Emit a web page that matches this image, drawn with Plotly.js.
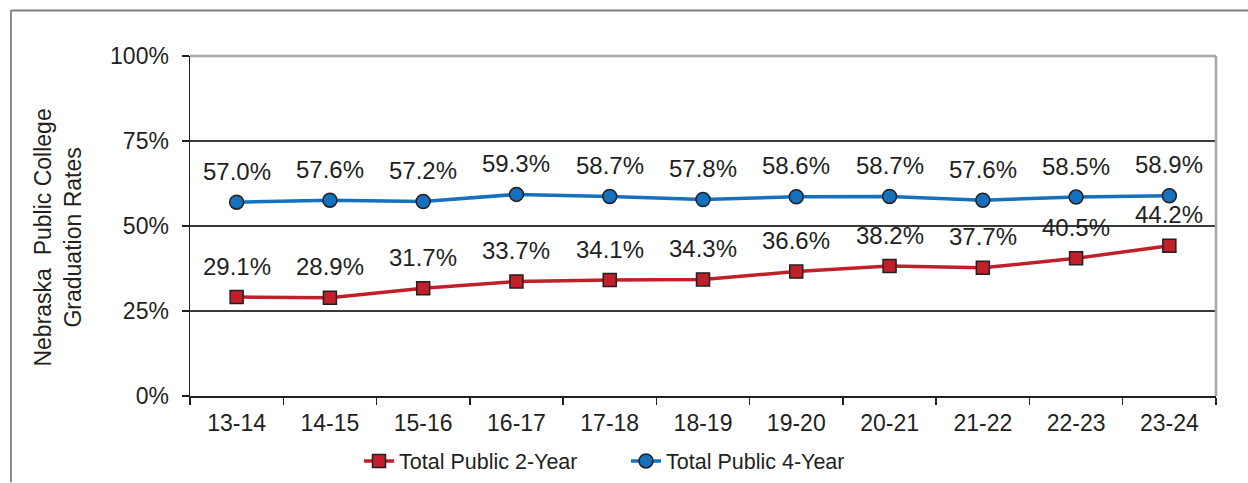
<!DOCTYPE html>
<html>
<head>
<meta charset="utf-8">
<script src="https://cdn.plot.ly/plotly-3.0.1.min.js"></script>
<style>
html,body{margin:0;padding:0;background:#fff;}
#chart{width:1248px;height:483px;}
</style>
</head>
<body>
<div id="chart"></div>
<script>
const categories = ['13-14','14-15','15-16','16-17','17-18','18-19','19-20','20-21','21-22','22-23','23-24'];
const twoYear = [29.1, 28.9, 31.7, 33.7, 34.1, 34.3, 36.6, 38.2, 37.7, 40.5, 44.2];
const fourYear = [57.0, 57.6, 57.2, 59.3, 58.7, 57.8, 58.6, 58.7, 57.6, 58.5, 58.9];
const seriesNames = ['Total Public 2-Year', 'Total Public 4-Year'];
const yTicks = [0, 25, 50, 75, 100];
const yTitle = 'Nebraska  Public College<br>Graduation Rates';

const RED = '#C1202B';
const BLUE = '#1570BE';
const INK = '#231F20';
const FONT = 'Liberation Sans, Arial, sans-serif';

const traces = [
  {
    x: categories, y: twoYear, name: seriesNames[0], type: 'scatter', mode: 'lines+markers',
    line: {color: RED, width: 3.5},
    marker: {symbol: 'square', size: 13, color: RED, line: {color: INK, width: 1.5}},
    hoverinfo: 'skip'
  },
  {
    x: categories, y: fourYear, name: seriesNames[1], type: 'scatter', mode: 'lines+markers',
    line: {color: BLUE, width: 3.5},
    marker: {symbol: 'circle', size: 14, color: BLUE, line: {color: INK, width: 1.5}},
    hoverinfo: 'skip'
  }
];

const annotations = [];
[twoYear, fourYear].forEach(function (vals) {
  vals.forEach(function (v, i) {
    annotations.push({
      x: categories[i], y: v, xref: 'x', yref: 'y',
      text: v.toFixed(1) + '%', showarrow: false,
      yshift: 31, yanchor: 'middle', xanchor: 'center',
      font: {family: FONT, size: 24, color: INK}
    });
  });
});
annotations.push({
  xref: 'paper', yref: 'paper', x: -0.129, y: 0.465,
  text: yTitle, showarrow: false, textangle: -90,
  xanchor: 'center', yanchor: 'middle',
  font: {family: FONT, size: 23, color: INK}
});

const L = 190, R = 32, T = 56, B = 86.5;
const W = 1248 - L - R, H = 483 - T - B;
function px(x) { return (x - L) / W; }
function py(y) { return (483 - B - y) / H; }

const shapes = [
  {type: 'line', xref: 'paper', yref: 'paper', x0: 0, x1: 1, y0: 1, y1: 1, line: {color: '#A6A6A6', width: 2.5}, layer: 'above'},
  {type: 'line', xref: 'paper', yref: 'paper', x0: 1, x1: 1, y0: 0, y1: 1, line: {color: '#A6A6A6', width: 2.5}, layer: 'above'},
  {type: 'line', xref: 'paper', yref: 'paper', x0: px(11), x1: px(1248), y0: py(10.5), y1: py(10.5), line: {color: '#7F7F7F', width: 2}},
  {type: 'line', xref: 'paper', yref: 'paper', x0: px(11), x1: px(11), y0: py(10), y1: py(483), line: {color: '#8C8C8C', width: 2}}
];

const layout = {
  width: 1248, height: 483,
  margin: {l: L, r: R, t: T, b: B, pad: 0, autoexpand: false},
  paper_bgcolor: '#fff', plot_bgcolor: '#fff',
  font: {family: FONT, size: 23, color: INK},
  showlegend: true,
  legend: {
    orientation: 'h', x: px(359), xanchor: 'left', y: py(441), yanchor: 'top',
    entrywidth: 222, entrywidthmode: 'pixels',
    font: {family: FONT, size: 21.5, color: INK},
    itemclick: false, itemdoubleclick: false, traceorder: 'normal'
  },
  xaxis: {
    type: 'category', range: [-0.5, categories.length - 0.5],
    showline: true, linecolor: INK, linewidth: 1.5,
    ticks: 'outside', tickson: 'boundaries', ticklen: 7, tickcolor: INK, tickwidth: 1.5,
    showgrid: false, zeroline: false,
    tickfont: {family: FONT, size: 23, color: INK},
    ticklabelstandoff: 6, fixedrange: true
  },
  yaxis: {
    range: [0, 100], tickvals: yTicks, ticktext: yTicks.map(v => v + '%'),
    showline: true, linecolor: INK, linewidth: 1.5,
    ticks: 'outside', ticklen: 7, tickcolor: INK, tickwidth: 1.5,
    showgrid: true, gridcolor: '#3A3A3A', gridwidth: 1.2,
    zeroline: false,
    tickfont: {family: FONT, size: 23, color: INK},
    ticklabelstandoff: 8, fixedrange: true
  },
  annotations: annotations,
  shapes: shapes
};

Plotly.newPlot('chart', traces, layout, {displayModeBar: false, staticPlot: true});
</script>
</body>
</html>
